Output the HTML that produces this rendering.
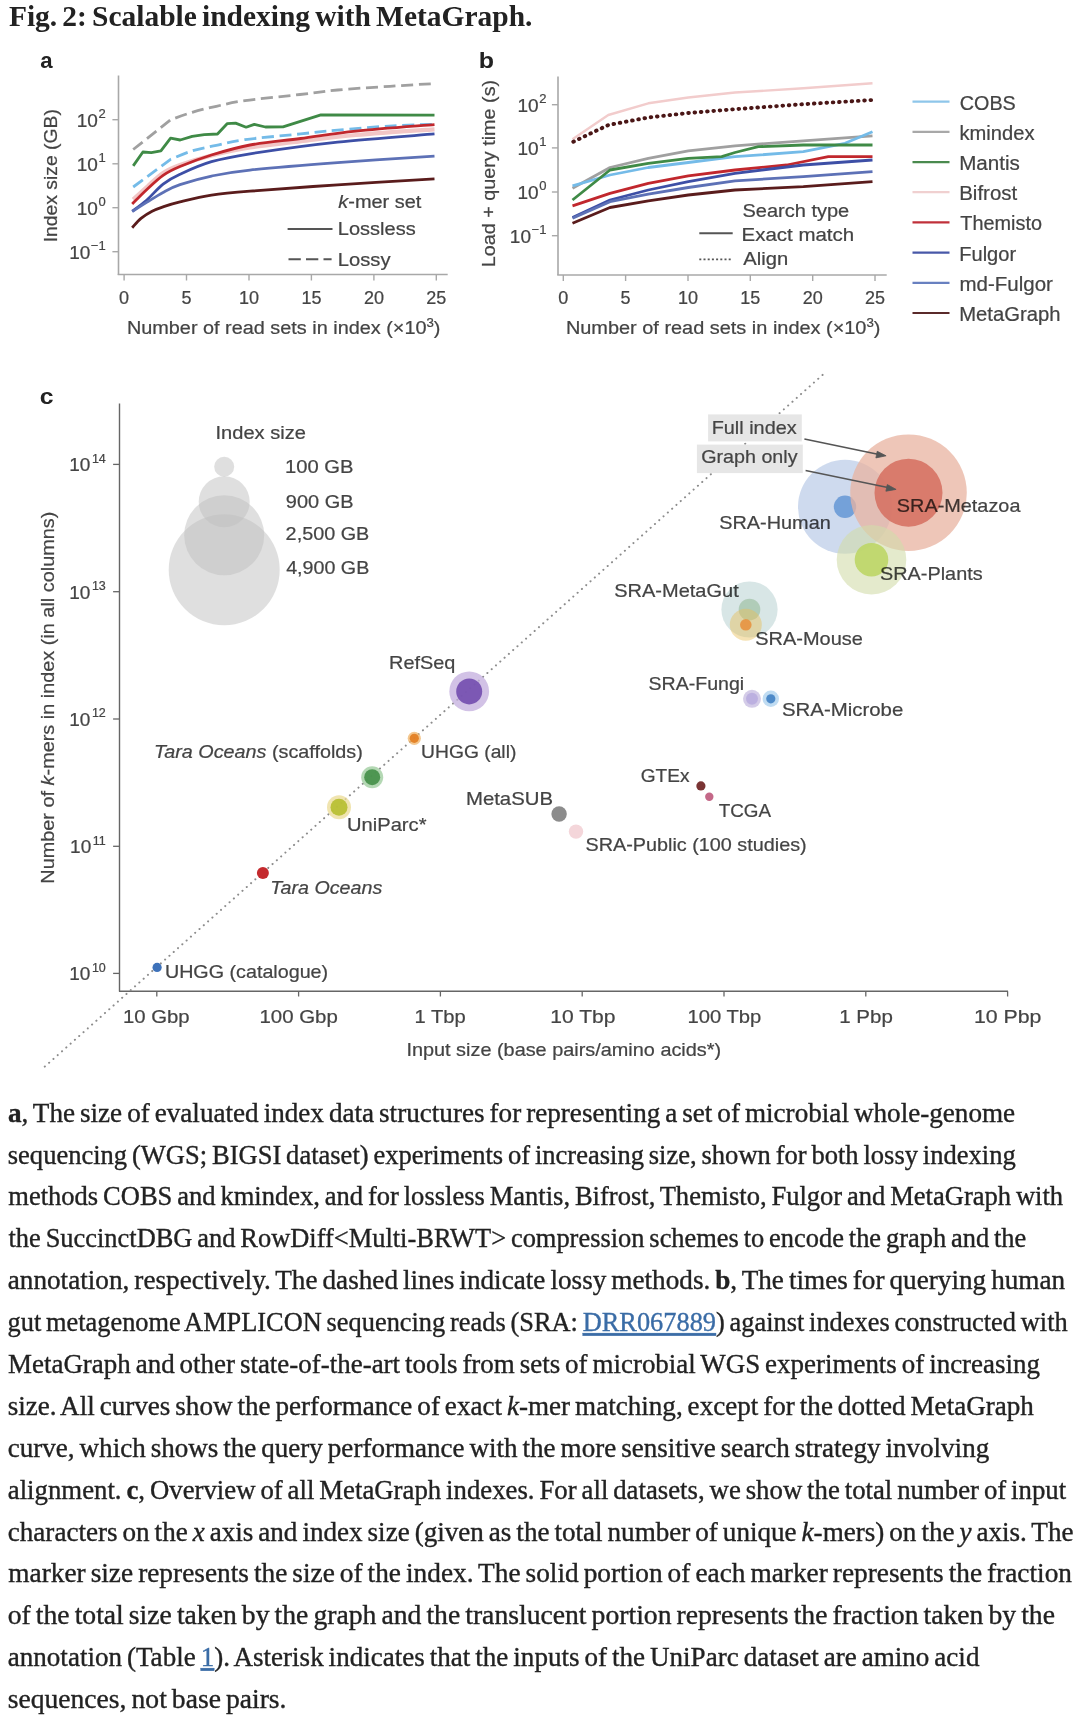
<!DOCTYPE html>
<html><head><meta charset="utf-8"><title>Fig. 2: Scalable indexing with MetaGraph</title>
<style>
html,body{margin:0;padding:0;background:#fff;}
body{width:1080px;height:1722px;overflow:hidden;position:relative;font-family:"Liberation Sans", sans-serif;}
svg{position:absolute;left:0;top:0;}
</style></head>
<body>
<svg width="1080" height="1722" viewBox="0 0 1080 1722">
<text x="8.91" y="25.60" font-size="29.5" fill="#222" font-family='"Liberation Serif", serif' font-weight="bold" textLength="523.52" lengthAdjust="spacingAndGlyphs"><tspan word-spacing="-2.2">Fig. 2: Scalable indexing with MetaGraph.</tspan></text>
<text x="40.20" y="68.00" font-size="22" fill="#222" font-family='"Liberation Sans", sans-serif' font-weight="bold" textLength="12.34" lengthAdjust="spacingAndGlyphs">a</text>
<line x1="118.5" y1="75.5" x2="118.5" y2="275.0" stroke="#a8a8a8" stroke-width="1.6"/>
<line x1="117.7" y1="274.5" x2="447.7" y2="274.5" stroke="#a8a8a8" stroke-width="1.6"/>
<line x1="112.4" y1="119.7" x2="118.5" y2="119.7" stroke="#a8a8a8" stroke-width="1.4"/>
<text x="105.7" y="126.6" font-size="19" fill="#444444" stroke="#444444" stroke-width="0.22" text-anchor="end" font-family='"Liberation Sans", sans-serif'>10<tspan font-size="13" dx="0.6" dy="-8.9">2</tspan></text>
<line x1="112.4" y1="163.8" x2="118.5" y2="163.8" stroke="#a8a8a8" stroke-width="1.4"/>
<text x="105.7" y="170.7" font-size="19" fill="#444444" stroke="#444444" stroke-width="0.22" text-anchor="end" font-family='"Liberation Sans", sans-serif'>10<tspan font-size="13" dx="0.6" dy="-8.9">1</tspan></text>
<line x1="112.4" y1="207.7" x2="118.5" y2="207.7" stroke="#a8a8a8" stroke-width="1.4"/>
<text x="105.7" y="214.6" font-size="19" fill="#444444" stroke="#444444" stroke-width="0.22" text-anchor="end" font-family='"Liberation Sans", sans-serif'>10<tspan font-size="13" dx="0.6" dy="-8.9">0</tspan></text>
<line x1="112.4" y1="251.7" x2="118.5" y2="251.7" stroke="#a8a8a8" stroke-width="1.4"/>
<text x="105.7" y="258.6" font-size="19" fill="#444444" stroke="#444444" stroke-width="0.22" text-anchor="end" font-family='"Liberation Sans", sans-serif'>10<tspan font-size="13" dx="0.6" dy="-8.9">−1</tspan></text>
<line x1="124.1" y1="274.5" x2="124.1" y2="280.5" stroke="#a8a8a8" stroke-width="1.4"/>
<text x="124.1" y="304.3" font-size="18" fill="#444444" stroke="#444444" stroke-width="0.22" text-anchor="middle" font-family='"Liberation Sans", sans-serif'>0</text>
<line x1="186.5" y1="274.5" x2="186.5" y2="280.5" stroke="#a8a8a8" stroke-width="1.4"/>
<text x="186.5" y="304.3" font-size="18" fill="#444444" stroke="#444444" stroke-width="0.22" text-anchor="middle" font-family='"Liberation Sans", sans-serif'>5</text>
<line x1="249.0" y1="274.5" x2="249.0" y2="280.5" stroke="#a8a8a8" stroke-width="1.4"/>
<text x="249.0" y="304.3" font-size="18" fill="#444444" stroke="#444444" stroke-width="0.22" text-anchor="middle" font-family='"Liberation Sans", sans-serif'>10</text>
<line x1="311.4" y1="274.5" x2="311.4" y2="280.5" stroke="#a8a8a8" stroke-width="1.4"/>
<text x="311.4" y="304.3" font-size="18" fill="#444444" stroke="#444444" stroke-width="0.22" text-anchor="middle" font-family='"Liberation Sans", sans-serif'>15</text>
<line x1="373.9" y1="274.5" x2="373.9" y2="280.5" stroke="#a8a8a8" stroke-width="1.4"/>
<text x="373.9" y="304.3" font-size="18" fill="#444444" stroke="#444444" stroke-width="0.22" text-anchor="middle" font-family='"Liberation Sans", sans-serif'>20</text>
<line x1="436.3" y1="274.5" x2="436.3" y2="280.5" stroke="#a8a8a8" stroke-width="1.4"/>
<text x="436.3" y="304.3" font-size="18" fill="#444444" stroke="#444444" stroke-width="0.22" text-anchor="middle" font-family='"Liberation Sans", sans-serif'>25</text>
<text x="126.92" y="333.50" font-size="18" fill="#444444" font-family='"Liberation Sans", sans-serif' stroke="#444444" stroke-width="0.22" textLength="313.58" lengthAdjust="spacingAndGlyphs">Number of read sets in index (×10<tspan font-size="12" dy="-7">3</tspan><tspan dy="7">)</tspan></text>
<text transform="translate(57.00,0) rotate(-90)" x="-242.28" y="0" font-size="19" fill="#444444" font-family='"Liberation Sans", sans-serif' stroke="#444444" stroke-width="0.22" textLength="133.08" lengthAdjust="spacingAndGlyphs">Index size (GB)</text>
<path d="M133.2,149.5 L170.6,119.8 C174.2,118.5 184.6,114.5 192.2,112.3 C199.8,110.0 207.5,108.2 216.3,106.3 C225.1,104.3 231.1,102.6 245.0,100.6 C258.9,98.6 284.6,96.3 300.0,94.5 C315.4,92.7 322.6,91.4 337.6,90.0 C352.6,88.6 374.2,87.3 390.0,86.3 C405.8,85.2 425.4,84.1 432.5,83.7" fill="none" stroke="#a0a0a0" stroke-width="2.8" stroke-linejoin="round" stroke-dasharray="12 5.6"/>
<path d="M133.2,187.0 L170.6,159.3 C174.2,157.9 184.6,153.1 192.2,150.8 C199.8,148.5 207.5,147.3 216.3,145.4 C225.1,143.5 230.9,141.5 245.0,139.6 C259.1,137.7 285.2,135.5 300.6,133.9 C316.0,132.3 322.2,131.5 337.6,130.2 C353.0,128.8 376.9,126.8 393.0,125.8 C409.1,124.8 427.6,124.6 434.5,124.4" fill="none" stroke="#74bbe8" stroke-width="2.8" stroke-linejoin="round" stroke-dasharray="12 5.6"/>
<path d="M133.2,165.9 L142.9,152.0 L151.3,152.6 L160.9,150.8 L170.6,138.2 L180.2,140.0 L192.2,136.4 L204.3,134.6 L217.5,134.0 L227.1,123.7 L235.6,123.1 L246.1,127.2 L254.3,124.4 L265.4,127.0 L283.0,126.8 L320.9,114.8 L434.5,115.2" fill="none" stroke="#3f8a46" stroke-width="2.8" stroke-linejoin="round"/>
<path d="M133.2,199.5 C135.7,197.2 143.0,190.4 148.0,186.0 C153.0,181.6 157.8,176.5 163.1,173.0 C168.4,169.5 171.9,167.9 180.0,165.0 C188.1,162.1 199.8,158.4 211.5,155.5 C223.2,152.6 235.2,149.8 250.0,147.5 C264.8,145.2 282.3,143.6 300.0,141.5 C317.7,139.4 333.6,137.0 356.0,135.0 C378.4,133.0 421.4,130.2 434.5,129.3" fill="none" stroke="#f2c6c6" stroke-width="4.2" stroke-linejoin="round"/>
<path d="M132.2,204.0 C134.6,201.6 141.4,194.5 146.6,189.7 C151.8,184.9 157.5,179.2 163.1,175.3 C168.7,171.4 171.9,169.9 180.0,166.5 C188.1,163.1 199.8,158.6 211.5,155.0 C223.2,151.4 235.2,147.8 250.0,145.0 C264.9,142.2 282.9,140.8 300.6,138.5 C318.3,136.2 333.7,133.4 356.0,131.1 C378.3,128.8 421.4,125.7 434.5,124.6" fill="none" stroke="#c1272d" stroke-width="2.8" stroke-linejoin="round"/>
<path d="M132.2,211.2 C134.6,209.4 141.4,204.7 146.6,200.2 C151.8,195.7 157.5,188.4 163.1,184.1 C168.7,179.8 171.9,177.9 180.0,174.2 C188.1,170.5 199.8,165.1 211.5,161.7 C223.2,158.3 229.0,157.1 250.0,153.8 C271.0,150.6 306.9,145.5 337.6,142.2 C368.4,138.9 418.4,135.3 434.5,133.9" fill="none" stroke="#3d4fa6" stroke-width="2.8" stroke-linejoin="round"/>
<path d="M132.2,211.7 C134.6,210.1 141.4,205.6 146.6,202.4 C151.8,199.2 157.5,195.4 163.1,192.4 C168.7,189.4 171.9,187.4 180.0,184.7 C188.1,182.0 199.8,178.5 211.5,176.1 C223.2,173.7 229.0,172.3 250.0,170.1 C271.0,167.8 306.9,164.9 337.6,162.6 C368.4,160.3 418.4,157.2 434.5,156.1" fill="none" stroke="#5d71b6" stroke-width="2.8" stroke-linejoin="round"/>
<path d="M132.2,227.7 C133.7,226.1 137.7,221.2 141.0,218.4 C144.3,215.7 148.4,213.1 152.1,211.2 C155.8,209.3 158.4,208.4 163.1,206.8 C167.8,205.2 171.9,203.7 180.0,201.8 C188.1,199.9 199.8,197.0 211.5,195.2 C223.2,193.4 229.0,192.9 250.0,191.2 C271.0,189.5 306.9,186.9 337.6,184.8 C368.4,182.8 418.4,179.9 434.5,178.9" fill="none" stroke="#5a1c1c" stroke-width="2.8" stroke-linejoin="round"/>
<text x="338.32" y="208.10" font-size="18" fill="#444444" font-family='"Liberation Sans", sans-serif' stroke="#444444" stroke-width="0.22" textLength="82.99" lengthAdjust="spacingAndGlyphs"><tspan font-style="italic">k</tspan>-mer set</text>
<text x="337.83" y="234.90" font-size="18" fill="#444444" font-family='"Liberation Sans", sans-serif' stroke="#444444" stroke-width="0.22" textLength="77.86" lengthAdjust="spacingAndGlyphs">Lossless</text>
<text x="337.82" y="265.90" font-size="18" fill="#444444" font-family='"Liberation Sans", sans-serif' stroke="#444444" stroke-width="0.22" textLength="52.71" lengthAdjust="spacingAndGlyphs">Lossy</text>
<line x1="287.6" y1="228.9" x2="332.5" y2="228.9" stroke="#555" stroke-width="2"/>
<line x1="288.5" y1="259.2" x2="331.6" y2="259.2" stroke="#555" stroke-width="2" stroke-dasharray="12.3 5.2"/>
<text x="478.80" y="67.60" font-size="22" fill="#222" font-family='"Liberation Sans", sans-serif' font-weight="bold" textLength="15.27" lengthAdjust="spacingAndGlyphs">b</text>
<line x1="558.0" y1="76.6" x2="558.0" y2="275.0" stroke="#a8a8a8" stroke-width="1.6"/>
<line x1="557.2" y1="275.0" x2="886.7" y2="275.0" stroke="#a8a8a8" stroke-width="1.6"/>
<line x1="551.9" y1="104.7" x2="558.0" y2="104.7" stroke="#a8a8a8" stroke-width="1.4"/>
<text x="546.4" y="111.6" font-size="19" fill="#444444" stroke="#444444" stroke-width="0.22" text-anchor="end" font-family='"Liberation Sans", sans-serif'>10<tspan font-size="13" dx="0.6" dy="-8.9">2</tspan></text>
<line x1="551.9" y1="147.9" x2="558.0" y2="147.9" stroke="#a8a8a8" stroke-width="1.4"/>
<text x="546.4" y="154.8" font-size="19" fill="#444444" stroke="#444444" stroke-width="0.22" text-anchor="end" font-family='"Liberation Sans", sans-serif'>10<tspan font-size="13" dx="0.6" dy="-8.9">1</tspan></text>
<line x1="551.9" y1="192.0" x2="558.0" y2="192.0" stroke="#a8a8a8" stroke-width="1.4"/>
<text x="546.4" y="198.9" font-size="19" fill="#444444" stroke="#444444" stroke-width="0.22" text-anchor="end" font-family='"Liberation Sans", sans-serif'>10<tspan font-size="13" dx="0.6" dy="-8.9">0</tspan></text>
<line x1="551.9" y1="235.7" x2="558.0" y2="235.7" stroke="#a8a8a8" stroke-width="1.4"/>
<text x="546.4" y="242.6" font-size="19" fill="#444444" stroke="#444444" stroke-width="0.22" text-anchor="end" font-family='"Liberation Sans", sans-serif'>10<tspan font-size="13" dx="0.6" dy="-8.9">−1</tspan></text>
<line x1="563.3" y1="275.0" x2="563.3" y2="281.0" stroke="#a8a8a8" stroke-width="1.4"/>
<text x="563.3" y="304.3" font-size="18" fill="#444444" stroke="#444444" stroke-width="0.22" text-anchor="middle" font-family='"Liberation Sans", sans-serif'>0</text>
<line x1="625.6" y1="275.0" x2="625.6" y2="281.0" stroke="#a8a8a8" stroke-width="1.4"/>
<text x="625.6" y="304.3" font-size="18" fill="#444444" stroke="#444444" stroke-width="0.22" text-anchor="middle" font-family='"Liberation Sans", sans-serif'>5</text>
<line x1="688.0" y1="275.0" x2="688.0" y2="281.0" stroke="#a8a8a8" stroke-width="1.4"/>
<text x="688.0" y="304.3" font-size="18" fill="#444444" stroke="#444444" stroke-width="0.22" text-anchor="middle" font-family='"Liberation Sans", sans-serif'>10</text>
<line x1="750.3" y1="275.0" x2="750.3" y2="281.0" stroke="#a8a8a8" stroke-width="1.4"/>
<text x="750.3" y="304.3" font-size="18" fill="#444444" stroke="#444444" stroke-width="0.22" text-anchor="middle" font-family='"Liberation Sans", sans-serif'>15</text>
<line x1="812.7" y1="275.0" x2="812.7" y2="281.0" stroke="#a8a8a8" stroke-width="1.4"/>
<text x="812.7" y="304.3" font-size="18" fill="#444444" stroke="#444444" stroke-width="0.22" text-anchor="middle" font-family='"Liberation Sans", sans-serif'>20</text>
<line x1="875.0" y1="275.0" x2="875.0" y2="281.0" stroke="#a8a8a8" stroke-width="1.4"/>
<text x="875.0" y="304.3" font-size="18" fill="#444444" stroke="#444444" stroke-width="0.22" text-anchor="middle" font-family='"Liberation Sans", sans-serif'>25</text>
<text x="565.91" y="333.50" font-size="18" fill="#444444" font-family='"Liberation Sans", sans-serif' stroke="#444444" stroke-width="0.22" textLength="314.59" lengthAdjust="spacingAndGlyphs">Number of read sets in index (×10<tspan font-size="12" dy="-7">3</tspan><tspan dy="7">)</tspan></text>
<text transform="translate(494.80,0) rotate(-90)" x="-267.26" y="0" font-size="19" fill="#444444" font-family='"Liberation Sans", sans-serif' stroke="#444444" stroke-width="0.22" textLength="187.36" lengthAdjust="spacingAndGlyphs">Load + query time (s)</text>
<path d="M572.5,139.2 L608.3,115.0 L648.3,103.3 L688.3,97.5 L735.0,92.5 L803.3,88.3 L872.5,83.3" fill="none" stroke="#f2cccc" stroke-width="2.4" stroke-linejoin="round"/>
<path d="M572.5,188.3 L610.0,167.5 L648.3,158.3 L688.3,150.8 L735.0,145.8 L803.3,140.8 L872.5,135.8" fill="none" stroke="#a0a0a0" stroke-width="2.8" stroke-linejoin="round"/>
<path d="M572.5,185.8 L610.0,175.0 L648.3,167.5 L688.3,162.5 L735.0,156.7 L803.3,151.7 L845.0,143.3 L872.5,131.7" fill="none" stroke="#74bbe8" stroke-width="2.8" stroke-linejoin="round"/>
<path d="M572.5,200.0 L610.0,170.0 L648.3,163.3 L688.3,158.3 L721.7,156.7 L735.0,152.5 L758.3,146.7 L803.3,145.0 L872.5,145.0" fill="none" stroke="#3f8a46" stroke-width="2.8" stroke-linejoin="round"/>
<path d="M572.5,205.8 L610.0,193.3 L648.3,183.3 L688.3,175.8 L735.0,170.0 L786.7,165.0 L828.3,156.7 L872.5,156.7" fill="none" stroke="#c1272d" stroke-width="2.8" stroke-linejoin="round"/>
<path d="M572.5,217.5 L610.0,200.0 L648.3,190.0 L688.3,181.7 L735.0,173.3 L803.3,165.0 L872.5,160.0" fill="none" stroke="#3d4fa6" stroke-width="2.8" stroke-linejoin="round"/>
<path d="M572.5,218.3 L610.0,201.7 L648.3,194.2 L688.3,187.5 L735.0,180.8 L803.3,176.7 L872.5,171.7" fill="none" stroke="#5d71b6" stroke-width="2.8" stroke-linejoin="round"/>
<path d="M572.5,223.3 L610.0,207.5 L648.3,200.8 L688.3,195.0 L735.0,190.0 L803.3,186.7 L872.5,181.7" fill="none" stroke="#5a1c1c" stroke-width="2.8" stroke-linejoin="round"/>
<path d="M573.3,141.7 L608.3,125.0 L648.3,117.5 L688.3,113.0 L735.0,109.2 L803.3,104.2 L872.5,100.0" fill="none" stroke="#4a1616" stroke-width="3.9" stroke-linejoin="round" stroke-dasharray="0.6 5.7" stroke-linecap="round"/>
<text x="742.47" y="216.70" font-size="18" fill="#444444" font-family='"Liberation Sans", sans-serif' stroke="#444444" stroke-width="0.22" textLength="106.73" lengthAdjust="spacingAndGlyphs">Search type</text>
<text x="741.60" y="240.70" font-size="18" fill="#444444" font-family='"Liberation Sans", sans-serif' stroke="#444444" stroke-width="0.22" textLength="112.57" lengthAdjust="spacingAndGlyphs">Exact match</text>
<text x="743.30" y="265.00" font-size="18" fill="#444444" font-family='"Liberation Sans", sans-serif' stroke="#444444" stroke-width="0.22" textLength="44.83" lengthAdjust="spacingAndGlyphs">Align</text>
<line x1="699.3" y1="233.3" x2="732.7" y2="233.3" stroke="#555" stroke-width="2"/>
<line x1="699.3" y1="259.3" x2="732.7" y2="259.3" stroke="#555" stroke-width="1.8" stroke-dasharray="2 2.2"/>
<line x1="912.5" y1="101.7" x2="949.5" y2="101.7" stroke="#8ec6ea" stroke-width="2.2"/>
<text x="959.79" y="109.70" font-size="19.5" fill="#444444" font-family='"Liberation Sans", sans-serif' stroke="#444444" stroke-width="0.22" textLength="55.99" lengthAdjust="spacingAndGlyphs">COBS</text>
<line x1="912.5" y1="131.9" x2="949.5" y2="131.9" stroke="#a8a8a8" stroke-width="2.2"/>
<text x="959.51" y="139.88" font-size="19.5" fill="#444444" font-family='"Liberation Sans", sans-serif' stroke="#444444" stroke-width="0.22" textLength="75.07" lengthAdjust="spacingAndGlyphs">kmindex</text>
<line x1="912.5" y1="162.1" x2="949.5" y2="162.1" stroke="#4a8a4e" stroke-width="2.2"/>
<text x="959.21" y="170.06" font-size="19.5" fill="#444444" font-family='"Liberation Sans", sans-serif' stroke="#444444" stroke-width="0.22" textLength="60.71" lengthAdjust="spacingAndGlyphs">Mantis</text>
<line x1="912.5" y1="192.2" x2="949.5" y2="192.2" stroke="#f0d0d0" stroke-width="2.2"/>
<text x="959.23" y="200.24" font-size="19.5" fill="#444444" font-family='"Liberation Sans", sans-serif' stroke="#444444" stroke-width="0.22" textLength="57.99" lengthAdjust="spacingAndGlyphs">Bifrost</text>
<line x1="912.5" y1="222.4" x2="949.5" y2="222.4" stroke="#c0303a" stroke-width="2.2"/>
<text x="960.29" y="230.42" font-size="19.5" fill="#444444" font-family='"Liberation Sans", sans-serif' stroke="#444444" stroke-width="0.22" textLength="81.71" lengthAdjust="spacingAndGlyphs">Themisto</text>
<line x1="912.5" y1="252.6" x2="949.5" y2="252.6" stroke="#4858a8" stroke-width="2.2"/>
<text x="959.26" y="260.60" font-size="19.5" fill="#444444" font-family='"Liberation Sans", sans-serif' stroke="#444444" stroke-width="0.22" textLength="56.82" lengthAdjust="spacingAndGlyphs">Fulgor</text>
<line x1="912.5" y1="282.8" x2="949.5" y2="282.8" stroke="#6880c0" stroke-width="2.2"/>
<text x="959.49" y="290.78" font-size="19.5" fill="#444444" font-family='"Liberation Sans", sans-serif' stroke="#444444" stroke-width="0.22" textLength="93.39" lengthAdjust="spacingAndGlyphs">md-Fulgor</text>
<line x1="912.5" y1="313.0" x2="949.5" y2="313.0" stroke="#5a2a2a" stroke-width="2.2"/>
<text x="959.24" y="320.96" font-size="19.5" fill="#444444" font-family='"Liberation Sans", sans-serif' stroke="#444444" stroke-width="0.22" textLength="101.31" lengthAdjust="spacingAndGlyphs">MetaGraph</text>
<text x="39.86" y="404.30" font-size="22" fill="#222" font-family='"Liberation Sans", sans-serif' font-weight="bold" textLength="13.78" lengthAdjust="spacingAndGlyphs">c</text>
<line x1="119.5" y1="403.4" x2="119.5" y2="991.5" stroke="#666" stroke-width="1.4"/>
<line x1="119.0" y1="991.3" x2="1008.0" y2="991.3" stroke="#666" stroke-width="1.4"/>
<line x1="113.1" y1="464.4" x2="119.5" y2="464.4" stroke="#666" stroke-width="1.3"/>
<text x="105.8" y="471.4" font-size="19" fill="#444444" stroke="#444444" stroke-width="0.22" text-anchor="end" font-family='"Liberation Sans", sans-serif'>10<tspan font-size="12.5" dx="1.6" dy="-8.8">14</tspan></text>
<line x1="113.1" y1="591.7" x2="119.5" y2="591.7" stroke="#666" stroke-width="1.3"/>
<text x="105.8" y="598.7" font-size="19" fill="#444444" stroke="#444444" stroke-width="0.22" text-anchor="end" font-family='"Liberation Sans", sans-serif'>10<tspan font-size="12.5" dx="1.6" dy="-8.8">13</tspan></text>
<line x1="113.1" y1="719.0" x2="119.5" y2="719.0" stroke="#666" stroke-width="1.3"/>
<text x="105.8" y="726.0" font-size="19" fill="#444444" stroke="#444444" stroke-width="0.22" text-anchor="end" font-family='"Liberation Sans", sans-serif'>10<tspan font-size="12.5" dx="1.6" dy="-8.8">12</tspan></text>
<line x1="113.1" y1="846.3" x2="119.5" y2="846.3" stroke="#666" stroke-width="1.3"/>
<text x="105.8" y="853.3" font-size="19" fill="#444444" stroke="#444444" stroke-width="0.22" text-anchor="end" font-family='"Liberation Sans", sans-serif'>10<tspan font-size="12.5" dx="1.6" dy="-8.8">11</tspan></text>
<line x1="113.1" y1="973.4" x2="119.5" y2="973.4" stroke="#666" stroke-width="1.3"/>
<text x="105.8" y="980.4" font-size="19" fill="#444444" stroke="#444444" stroke-width="0.22" text-anchor="end" font-family='"Liberation Sans", sans-serif'>10<tspan font-size="12.5" dx="1.6" dy="-8.8">10</tspan></text>
<line x1="156.8" y1="991.3" x2="156.8" y2="996.5" stroke="#666" stroke-width="1.3"/>
<text x="122.95" y="1022.60" font-size="18.5" fill="#444444" font-family='"Liberation Sans", sans-serif' stroke="#444444" stroke-width="0.22" textLength="66.70" lengthAdjust="spacingAndGlyphs">10 Gbp</text>
<line x1="298.6" y1="991.3" x2="298.6" y2="996.5" stroke="#666" stroke-width="1.3"/>
<text x="259.44" y="1022.60" font-size="18.5" fill="#444444" font-family='"Liberation Sans", sans-serif' stroke="#444444" stroke-width="0.22" textLength="78.36" lengthAdjust="spacingAndGlyphs">100 Gbp</text>
<line x1="440.4" y1="991.3" x2="440.4" y2="996.5" stroke="#666" stroke-width="1.3"/>
<text x="414.56" y="1022.60" font-size="18.5" fill="#444444" font-family='"Liberation Sans", sans-serif' stroke="#444444" stroke-width="0.22" textLength="51.22" lengthAdjust="spacingAndGlyphs">1 Tbp</text>
<line x1="582.2" y1="991.3" x2="582.2" y2="996.5" stroke="#666" stroke-width="1.3"/>
<text x="550.29" y="1022.60" font-size="18.5" fill="#444444" font-family='"Liberation Sans", sans-serif' stroke="#444444" stroke-width="0.22" textLength="65.17" lengthAdjust="spacingAndGlyphs">10 Tbp</text>
<line x1="724.0" y1="991.3" x2="724.0" y2="996.5" stroke="#666" stroke-width="1.3"/>
<text x="687.56" y="1022.60" font-size="18.5" fill="#444444" font-family='"Liberation Sans", sans-serif' stroke="#444444" stroke-width="0.22" textLength="73.81" lengthAdjust="spacingAndGlyphs">100 Tbp</text>
<line x1="865.8" y1="991.3" x2="865.8" y2="996.5" stroke="#666" stroke-width="1.3"/>
<text x="839.24" y="1022.60" font-size="18.5" fill="#444444" font-family='"Liberation Sans", sans-serif' stroke="#444444" stroke-width="0.22" textLength="53.60" lengthAdjust="spacingAndGlyphs">1 Pbp</text>
<line x1="1007.6" y1="991.3" x2="1007.6" y2="996.5" stroke="#666" stroke-width="1.3"/>
<text x="973.97" y="1022.60" font-size="18.5" fill="#444444" font-family='"Liberation Sans", sans-serif' stroke="#444444" stroke-width="0.22" textLength="67.46" lengthAdjust="spacingAndGlyphs">10 Pbp</text>
<text x="406.42" y="1056.20" font-size="18.5" fill="#444444" font-family='"Liberation Sans", sans-serif' stroke="#444444" stroke-width="0.22" textLength="314.72" lengthAdjust="spacingAndGlyphs">Input size (base pairs/amino acids*)</text>
<text transform="translate(53.70,0) rotate(-90)" x="-883.67" y="0" font-size="19" fill="#444444" font-family='"Liberation Sans", sans-serif' stroke="#444444" stroke-width="0.22" textLength="372.00" lengthAdjust="spacingAndGlyphs">Number of <tspan font-style="italic">k</tspan>-mers in index (in all columns)</text>
<line x1="44.8" y1="1066.6" x2="824.4" y2="373.3" stroke="#8c8c8c" stroke-width="2.0" stroke-dasharray="0.1 5.65" stroke-linecap="round"/>
<text x="215.55" y="439.20" font-size="18" fill="#444444" font-family='"Liberation Sans", sans-serif' stroke="#444444" stroke-width="0.22" textLength="90.34" lengthAdjust="spacingAndGlyphs">Index size</text>
<text x="285.06" y="472.50" font-size="18.5" fill="#444444" font-family='"Liberation Sans", sans-serif' stroke="#444444" stroke-width="0.22" textLength="68.52" lengthAdjust="spacingAndGlyphs">100 GB</text>
<text x="285.89" y="507.50" font-size="18.5" fill="#444444" font-family='"Liberation Sans", sans-serif' stroke="#444444" stroke-width="0.22" textLength="67.68" lengthAdjust="spacingAndGlyphs">900 GB</text>
<text x="285.63" y="539.70" font-size="18.5" fill="#444444" font-family='"Liberation Sans", sans-serif' stroke="#444444" stroke-width="0.22" textLength="83.65" lengthAdjust="spacingAndGlyphs">2,500 GB</text>
<text x="286.17" y="574.20" font-size="18.5" fill="#444444" font-family='"Liberation Sans", sans-serif' stroke="#444444" stroke-width="0.22" textLength="83.11" lengthAdjust="spacingAndGlyphs">4,900 GB</text>
<circle cx="224.2" cy="569.8" r="55.5" fill="#c0c0c0" fill-opacity="0.5"/>
<circle cx="224.2" cy="535.3" r="40.0" fill="#c0c0c0" fill-opacity="0.5"/>
<circle cx="224.2" cy="501.8" r="25.5" fill="#c0c0c0" fill-opacity="0.5"/>
<circle cx="224.2" cy="466.7" r="10.0" fill="#c0c0c0" fill-opacity="0.5"/>
<circle cx="845.0" cy="506.8" r="47.0" fill="#becee8" fill-opacity="0.75"/>
<circle cx="845.0" cy="506.8" r="11.2" fill="#6a9ad6" fill-opacity="0.9"/>
<circle cx="908.5" cy="492.7" r="58.3" fill="#e8b3a0" fill-opacity="0.75"/>
<circle cx="908.5" cy="492.7" r="34.0" fill="#d67264" fill-opacity="0.9"/>
<circle cx="871.5" cy="559.7" r="34.8" fill="#d2dcaa" fill-opacity="0.6"/>
<circle cx="871.5" cy="559.7" r="16.8" fill="#bcd666" fill-opacity="0.9"/>
<circle cx="749.5" cy="609.5" r="28.1" fill="#cbdede" fill-opacity="0.75"/>
<circle cx="749.5" cy="609.5" r="10.8" fill="#acc9b3" fill-opacity="0.9"/>
<circle cx="745.8" cy="624.8" r="16.0" fill="#e9bf58" fill-opacity="0.45"/>
<circle cx="745.8" cy="624.8" r="5.8" fill="#e79240" fill-opacity="0.9"/>
<circle cx="752.0" cy="698.8" r="9.0" fill="#c6bbe0" fill-opacity="0.75"/>
<circle cx="752.0" cy="698.8" r="6.0" fill="#b9addf" fill-opacity="0.9"/>
<circle cx="770.8" cy="698.8" r="8.2" fill="#abd0ee" fill-opacity="0.75"/>
<circle cx="770.8" cy="698.8" r="4.6" fill="#4181c3" fill-opacity="0.9"/>
<circle cx="469.2" cy="691.4" r="19.9" fill="#c3aede" fill-opacity="0.75"/>
<circle cx="469.2" cy="691.4" r="13.0" fill="#724cae" fill-opacity="0.9"/>
<circle cx="414.3" cy="738.3" r="6.6" fill="#f0b66b" fill-opacity="0.75"/>
<circle cx="414.3" cy="738.3" r="4.6" fill="#e27c1f" fill-opacity="0.9"/>
<circle cx="372.2" cy="777.2" r="11.0" fill="#9bcb9b" fill-opacity="0.75"/>
<circle cx="372.2" cy="777.2" r="8.0" fill="#438f47" fill-opacity="0.9"/>
<circle cx="339.0" cy="807.2" r="12.0" fill="#ebdb96" fill-opacity="0.75"/>
<circle cx="339.0" cy="807.2" r="8.5" fill="#b6be2f" fill-opacity="0.9"/>
<circle cx="262.9" cy="873.0" r="6.0" fill="#c42a2e" fill-opacity="1"/>
<circle cx="157.1" cy="967.4" r="4.6" fill="#3e72ba" fill-opacity="1"/>
<circle cx="559.1" cy="814.0" r="7.7" fill="#8c8c8c" fill-opacity="1"/>
<circle cx="576.0" cy="831.6" r="7.2" fill="#f4d6da" fill-opacity="1"/>
<circle cx="700.9" cy="785.9" r="4.6" fill="#7a3434" fill-opacity="1"/>
<circle cx="709.3" cy="796.8" r="4.2" fill="#c46888" fill-opacity="1"/>
<g style="mix-blend-mode:multiply">
<text x="389.09" y="668.50" font-size="18.5" fill="#444444" font-family='"Liberation Sans", sans-serif' stroke="#444444" stroke-width="0.22" textLength="66.31" lengthAdjust="spacingAndGlyphs">RefSeq</text>
<text x="421.14" y="758.10" font-size="18.5" fill="#444444" font-family='"Liberation Sans", sans-serif' stroke="#444444" stroke-width="0.22" textLength="95.23" lengthAdjust="spacingAndGlyphs">UHGG (all)</text>
<text x="154.03" y="757.60" font-size="18.5" fill="#444444" font-family='"Liberation Sans", sans-serif' stroke="#444444" stroke-width="0.22" textLength="208.77" lengthAdjust="spacingAndGlyphs"><tspan font-style="italic">Tara Oceans</tspan> (scaffolds)</text>
<text x="347.07" y="830.50" font-size="18.5" fill="#444444" font-family='"Liberation Sans", sans-serif' stroke="#444444" stroke-width="0.22" textLength="79.40" lengthAdjust="spacingAndGlyphs">UniParc*</text>
<text x="270.34" y="893.50" font-size="18.5" fill="#444444" font-family='"Liberation Sans", sans-serif' font-style="italic" stroke="#444444" stroke-width="0.22" textLength="111.98" lengthAdjust="spacingAndGlyphs">Tara Oceans</text>
<text x="164.90" y="977.50" font-size="18.5" fill="#444444" font-family='"Liberation Sans", sans-serif' stroke="#444444" stroke-width="0.22" textLength="163.27" lengthAdjust="spacingAndGlyphs">UHGG (catalogue)</text>
<text x="465.95" y="804.50" font-size="18.5" fill="#444444" font-family='"Liberation Sans", sans-serif' stroke="#444444" stroke-width="0.22" textLength="87.06" lengthAdjust="spacingAndGlyphs">MetaSUB</text>
<text x="640.77" y="781.70" font-size="18.5" fill="#444444" font-family='"Liberation Sans", sans-serif' stroke="#444444" stroke-width="0.22" textLength="48.82" lengthAdjust="spacingAndGlyphs">GTEx</text>
<text x="718.69" y="816.90" font-size="18.5" fill="#444444" font-family='"Liberation Sans", sans-serif' stroke="#444444" stroke-width="0.22" textLength="52.35" lengthAdjust="spacingAndGlyphs">TCGA</text>
<text x="585.46" y="851.00" font-size="19" fill="#444444" font-family='"Liberation Sans", sans-serif' stroke="#444444" stroke-width="0.22" textLength="221.25" lengthAdjust="spacingAndGlyphs">SRA-Public (100 studies)</text>
<text x="648.47" y="689.50" font-size="19" fill="#444444" font-family='"Liberation Sans", sans-serif' stroke="#444444" stroke-width="0.22" textLength="95.74" lengthAdjust="spacingAndGlyphs">SRA-Fungi</text>
<text x="781.93" y="715.50" font-size="19" fill="#444444" font-family='"Liberation Sans", sans-serif' stroke="#444444" stroke-width="0.22" textLength="121.35" lengthAdjust="spacingAndGlyphs">SRA-Microbe</text>
<text x="614.25" y="596.70" font-size="19" fill="#444444" font-family='"Liberation Sans", sans-serif' stroke="#444444" stroke-width="0.22" textLength="124.46" lengthAdjust="spacingAndGlyphs">SRA-MetaGut</text>
<text x="755.25" y="644.70" font-size="19" fill="#444444" font-family='"Liberation Sans", sans-serif' stroke="#444444" stroke-width="0.22" textLength="107.66" lengthAdjust="spacingAndGlyphs">SRA-Mouse</text>
<text x="719.25" y="528.60" font-size="19" fill="#444444" font-family='"Liberation Sans", sans-serif' stroke="#444444" stroke-width="0.22" textLength="111.54" lengthAdjust="spacingAndGlyphs">SRA-Human</text>
<text x="880.06" y="579.60" font-size="19" fill="#444444" font-family='"Liberation Sans", sans-serif' stroke="#444444" stroke-width="0.22" textLength="102.58" lengthAdjust="spacingAndGlyphs">SRA-Plants</text>
<text x="896.86" y="511.50" font-size="19" fill="#444444" font-family='"Liberation Sans", sans-serif' stroke="#444444" stroke-width="0.22" textLength="123.57" lengthAdjust="spacingAndGlyphs">SRA-Metazoa</text>
</g>
<rect x="708.1" y="414.4" width="93.7" height="27" fill="#e6e6e6"/>
<rect x="696.9" y="444.6" width="105.9" height="28.5" fill="#e6e6e6"/>
<text x="711.73" y="434.20" font-size="19" fill="#444444" font-family='"Liberation Sans", sans-serif' stroke="#444444" stroke-width="0.22" textLength="84.90" lengthAdjust="spacingAndGlyphs">Full index</text>
<text x="701.16" y="462.60" font-size="19" fill="#444444" font-family='"Liberation Sans", sans-serif' stroke="#444444" stroke-width="0.22" textLength="96.38" lengthAdjust="spacingAndGlyphs">Graph only</text>
<line x1="804.4" y1="439.1" x2="879.0" y2="454.4" stroke="#555" stroke-width="1.5"/>
<path d="M886.1,455.8 L877.2,451.3 L875.9,457.9 Z" fill="#555" stroke="#555" stroke-width="0.8" stroke-linejoin="round"/>
<line x1="805.6" y1="470.6" x2="889.0" y2="487.8" stroke="#555" stroke-width="1.5"/>
<path d="M896.1,489.4 L887.3,484.6 L885.9,491.2 Z" fill="#555" stroke="#555" stroke-width="0.8" stroke-linejoin="round"/>
<text x="8.00" y="1121.70" font-size="26.8" fill="#222" font-family='"Liberation Serif", serif' textLength="1007.18" lengthAdjust="spacingAndGlyphs"><tspan word-spacing="-1.8" stroke="#222" stroke-width="0.35"><tspan font-weight="bold">a</tspan>, The size of evaluated index data structures for representing a set of microbial whole-genome</tspan></text>
<text x="7.77" y="1163.58" font-size="26.8" fill="#222" font-family='"Liberation Serif", serif' textLength="1007.96" lengthAdjust="spacingAndGlyphs"><tspan word-spacing="-1.8" stroke="#222" stroke-width="0.35">sequencing (WGS; BIGSI dataset) experiments of increasing size, shown for both lossy indexing</tspan></text>
<text x="8.26" y="1205.46" font-size="26.8" fill="#222" font-family='"Liberation Serif", serif' textLength="1054.86" lengthAdjust="spacingAndGlyphs"><tspan word-spacing="-1.8" stroke="#222" stroke-width="0.35">methods COBS and kmindex, and for lossless Mantis, Bifrost, Themisto, Fulgor and MetaGraph with</tspan></text>
<text x="8.51" y="1247.34" font-size="26.8" fill="#222" font-family='"Liberation Serif", serif' textLength="1017.74" lengthAdjust="spacingAndGlyphs"><tspan word-spacing="-1.8" stroke="#222" stroke-width="0.35">the SuccinctDBG and RowDiff&lt;Multi-BRWT&gt; compression schemes to encode the graph and the</tspan></text>
<text x="7.75" y="1289.22" font-size="26.8" fill="#222" font-family='"Liberation Serif", serif' textLength="1057.46" lengthAdjust="spacingAndGlyphs"><tspan word-spacing="-1.8" stroke="#222" stroke-width="0.35">annotation, respectively. The dashed lines indicate lossy methods. <tspan font-weight="bold">b</tspan>, The times for querying human</tspan></text>
<text x="7.53" y="1331.10" font-size="26.8" fill="#222" font-family='"Liberation Serif", serif' textLength="1060.18" lengthAdjust="spacingAndGlyphs"><tspan word-spacing="-1.8" stroke="#222" stroke-width="0.35">gut metagenome AMPLICON sequencing reads (SRA: <tspan fill="#3a6ca6" stroke="#3a6ca6" text-decoration="underline">DRR067889</tspan>) against indexes constructed with</tspan></text>
<text x="8.01" y="1372.98" font-size="26.8" fill="#222" font-family='"Liberation Serif", serif' textLength="1031.98" lengthAdjust="spacingAndGlyphs"><tspan word-spacing="-1.8" stroke="#222" stroke-width="0.35">MetaGraph and other state-of-the-art tools from sets of microbial WGS experiments of increasing</tspan></text>
<text x="7.76" y="1414.86" font-size="26.8" fill="#222" font-family='"Liberation Serif", serif' textLength="1026.14" lengthAdjust="spacingAndGlyphs"><tspan word-spacing="-1.8" stroke="#222" stroke-width="0.35">size. All curves show the performance of exact <tspan font-style="italic">k</tspan>-mer matching, except for the dotted MetaGraph</tspan></text>
<text x="7.76" y="1456.74" font-size="26.8" fill="#222" font-family='"Liberation Serif", serif' textLength="981.46" lengthAdjust="spacingAndGlyphs"><tspan word-spacing="-1.8" stroke="#222" stroke-width="0.35">curve, which shows the query performance with the more sensitive search strategy involving</tspan></text>
<text x="7.77" y="1498.62" font-size="26.8" fill="#222" font-family='"Liberation Serif", serif' textLength="1058.40" lengthAdjust="spacingAndGlyphs"><tspan word-spacing="-1.8" stroke="#222" stroke-width="0.35">alignment. <tspan font-weight="bold">c</tspan>, Overview of all MetaGraph indexes. For all datasets, we show the total number of input</tspan></text>
<text x="7.76" y="1540.50" font-size="26.8" fill="#222" font-family='"Liberation Serif", serif' textLength="1065.74" lengthAdjust="spacingAndGlyphs"><tspan word-spacing="-1.8" stroke="#222" stroke-width="0.35">characters on the <tspan font-style="italic">x</tspan> axis and index size (given as the total number of unique <tspan font-style="italic">k</tspan>-mers) on the <tspan font-style="italic">y</tspan> axis. The</tspan></text>
<text x="8.25" y="1582.38" font-size="26.8" fill="#222" font-family='"Liberation Serif", serif' textLength="1063.76" lengthAdjust="spacingAndGlyphs"><tspan word-spacing="-1.8" stroke="#222" stroke-width="0.35">marker size represents the size of the index. The solid portion of each marker represents the fraction</tspan></text>
<text x="7.74" y="1624.26" font-size="26.8" fill="#222" font-family='"Liberation Serif", serif' textLength="1047.23" lengthAdjust="spacingAndGlyphs"><tspan word-spacing="-1.8" stroke="#222" stroke-width="0.35">of the total size taken by the graph and the translucent portion represents the fraction taken by the</tspan></text>
<text x="7.76" y="1666.14" font-size="26.8" fill="#222" font-family='"Liberation Serif", serif' textLength="971.67" lengthAdjust="spacingAndGlyphs"><tspan word-spacing="-1.8" stroke="#222" stroke-width="0.35">annotation (Table <tspan fill="#3a6ca6" stroke="#3a6ca6" text-decoration="underline">1</tspan>). Asterisk indicates that the inputs of the UniParc dataset are amino acid</tspan></text>
<text x="7.74" y="1708.02" font-size="26.8" fill="#222" font-family='"Liberation Serif", serif' textLength="278.76" lengthAdjust="spacingAndGlyphs"><tspan word-spacing="-1.8" stroke="#222" stroke-width="0.35">sequences, not base pairs.</tspan></text>
</svg>
</body></html>
